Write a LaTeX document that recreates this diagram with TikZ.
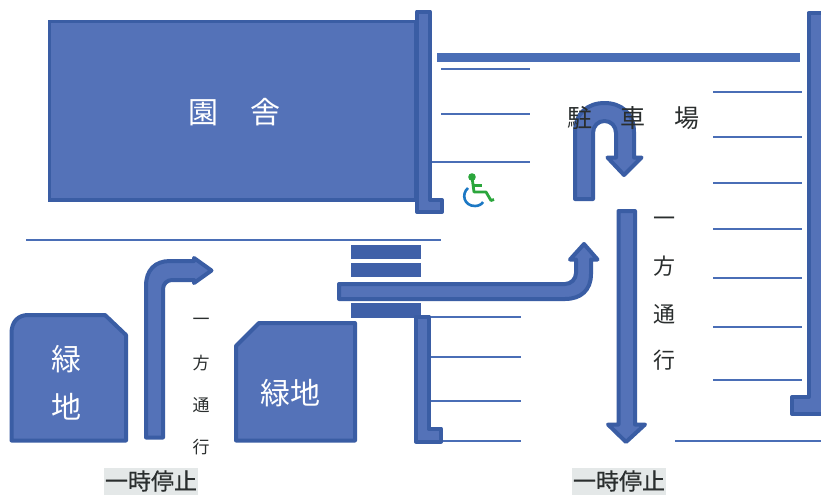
\documentclass[tikz,border=0pt]{standalone}
\usepackage{fontspec}
\newfontfamily\cjk{Noto Sans CJK JP}
\newfontfamily\cjkheavy[FakeBold=0.5]{Noto Sans CJK JP}
\definecolor{bfill}{HTML}{5472B8}
\definecolor{bedge}{HTML}{3A5DA4}
\definecolor{bbar}{HTML}{3F60A8}
\definecolor{bline}{HTML}{4A6EB6}
\definecolor{stopbg}{HTML}{E4E8E8}
\definecolor{ink}{HTML}{2A2E2E}
\definecolor{chairblue}{HTML}{1C78C4}
\definecolor{chairgreen}{HTML}{2BA63C}
\tikzset{
  solidshape/.style={fill=bfill,draw=bedge,line width=4pt,line join=round},
  thinshape/.style={fill=bfill,draw=bedge,line width=3.5pt,line join=miter},
  barshape/.style={fill=bbar,draw=none},
  parkline/.style={draw=bline,line width=1.5pt},
  whitetext/.style={inner sep=0pt,text height=26.4pt,text depth=3.6pt,text=white,font=\cjk\fontsize{30}{30}\selectfont},
  darktext/.style={inner sep=0pt,text height=22pt,text depth=3pt,text=ink,font=\cjk\fontsize{25}{25}\selectfont},
  oneway/.style={inner sep=0pt,text height=19.4pt,text depth=2.6pt,text=ink,font=\cjk\fontsize{22}{22}\selectfont},
  onewaysmall/.style={inner sep=0pt,text height=15pt,text depth=2pt,text=ink,font=\cjk\fontsize{17}{17}\selectfont},
  stoptext/.style={inner sep=0pt,text height=20.2pt,text depth=2.8pt,fill=stopbg,text=ink,minimum width=94pt,minimum height=27pt,font=\cjkheavy\fontsize{23}{23}\selectfont},
}
\begin{document}
\begin{tikzpicture}[x=1pt,y=-1pt]
\useasboundingbox (0,0) rectangle (821,496);
\fill[white] (0,0) rectangle (821,496);
% parking lines
\draw[parkline] (441,69)--(530,69);
\draw[parkline] (441,114)--(530,114);
\draw[parkline] (432,162)--(530,162);
\foreach \yy in {92,137,183,229,278,327,380}{\draw[parkline] (713,\yy)--(802,\yy);}
\draw[parkline] (675,441)--(821,441);
\draw[parkline] (26,240)--(441,240);
\foreach \yy in {317,357,401}{\draw[parkline] (430,\yy)--(521,\yy);}
\draw[parkline] (440,441)--(521,441);
% top bar
\fill[bline] (437,53) rectangle (800,61.5);
% building
\draw[thinshape] (49.5,21.5) rectangle (416,200);
\draw[solidshape] (417,11.5) -- (430,11.5) -- (430,200) -- (442,200) -- (442,212) -- (417,212) -- cycle;
% right wall
\draw[solidshape] (808.5,13) -- (823,13) -- (823,414) -- (792,414) -- (792,397) -- (808.5,397) -- cycle;
% crossing bars
\fill[barshape] (351,245) rectangle (421,258.5);
\fill[barshape] (351,263) rectangle (421,276.5);
\fill[barshape] (351,303) rectangle (421,317.5);
% lower wall
\draw[solidshape] (416,316.5) -- (428.5,316.5) -- (428.5,428.5) -- (441,428.5) -- (441,441.5) -- (416,441.5) -- cycle;
% green areas
\draw[solidshape] (11.5,440.5) -- (11.5,333) .. controls (11.5,322) and (18,315) .. (28,315) -- (105,315) -- (126,335) -- (126,440.5) -- cycle;
\draw[solidshape] (236,440.5) -- (236,346) -- (259,323) -- (355,323) -- (355,440.5) -- cycle;
% left arrow
\draw[solidshape] (146,437.5) -- (146,286) .. controls (146,270) and (155,261) .. (170,261) -- (194,261) -- (194,258) -- (211.5,270.5) -- (194,283) -- (194,280) -- (172,280) .. controls (167,280) and (163,284) .. (163,289) -- (163,437.5) -- cycle;
% middle arrow
\draw[solidshape] (339,284) -- (565,284) .. controls (571,284) and (576,279) .. (576,273) -- (576,259.5) -- (570,259.5) -- (584,244) -- (597.5,259.5) -- (591,259.5) -- (591,274) .. controls (591,290) and (581,299) .. (565,299) -- (339,299) -- cycle;
% U-turn arrow
\draw[solidshape] (575,199) -- (575,132) .. controls (575,113) and (588,103) .. (604.5,103) .. controls (621,103) and (634,113) .. (634,132) -- (634,157.5) -- (641.5,157.5) -- (624,175) -- (607.5,157.5) -- (616,157.5) -- (616,133) .. controls (616,126) and (611,121) .. (604.5,121) .. controls (598,121) and (593,126) .. (593,133) -- (593,199) -- cycle;
% down arrow
\draw[solidshape] (618.5,211) -- (635,211) -- (635,424.5) -- (645,424.5) -- (626,442) -- (608,424.5) -- (618.5,424.5) -- cycle;
% wheelchair
\draw[chairblue,line width=2.6pt] (468,188) .. controls (461,194) and (464,206) .. (475,206) .. controls (479,206) and (482,204) .. (483,202);
\fill[chairgreen] (472,177) circle (3.8pt);
\draw[chairgreen,line width=2.8pt,line join=round] (472,177) -- (474,192) -- (486,192) -- (491,200.5) -- (494,199.5);
\draw[chairgreen,line width=2.4pt] (474,185.5) -- (482,185.5);
% labels
\node[whitetext] (en1) at (203,112) {園};
\node[whitetext] (en2) at (265,112) {舎};
\node[darktext] (pk1) at (580,118) {駐};
\node[darktext] (pk2) at (633,118) {車};
\node[darktext] (pk3) at (687,118) {場};
\node[whitetext] (gl1) at (66,359) {緑};
\node[whitetext] (gl2) at (66,407) {地};
\node[whitetext] (gr) at (290,393) {緑地};
\node[oneway] (ow1) at (664,218) {一};
\node[oneway] (ow2) at (664,266) {方};
\node[oneway] (ow3) at (664,314) {通};
\node[oneway] (ow4) at (664,360) {行};
\node[onewaysmall] (os1) at (201,319) {一};
\node[onewaysmall] (os2) at (201,363) {方};
\node[onewaysmall] (os3) at (201,405) {通};
\node[onewaysmall] (os4) at (201,447) {行};
\node[stoptext] (st1) at (151,481) {一時停止};
\node[stoptext] (st2) at (619,481) {一時停止};
\end{tikzpicture}
\end{document}
